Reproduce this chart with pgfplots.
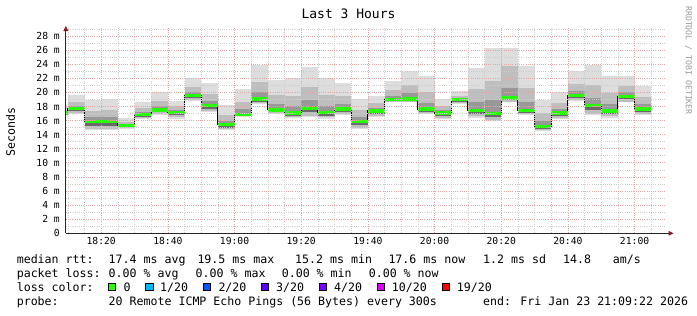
\documentclass[border=0pt]{standalone}
\usepackage{fontspec}
\setmainfont{DejaVu Sans Mono}
\usepackage{pgfplots}
\pgfplotsset{compat=1.18}
\usepackage{pgfplotstable}
\definecolor{smokeA}{HTML}{DDDDDD}
\definecolor{smokeB}{HTML}{BEBEBE}
\definecolor{smokeC}{HTML}{989898}
\definecolor{smokeD}{HTML}{6A6A6A}
\definecolor{medgreen}{HTML}{26FF00}
\definecolor{mgrid}{HTML}{E4A4A4}
\definecolor{ngrid}{HTML}{CDCDCD}
\definecolor{arrowred}{HTML}{8B1A1A}
\definecolor{lc1}{HTML}{00B8FF}
\definecolor{lc2}{HTML}{0059FF}
\definecolor{lc3}{HTML}{5E00FF}
\definecolor{lc4}{HTML}{7E00FF}
\definecolor{lc10}{HTML}{DD00FF}
\definecolor{lc19}{HTML}{FF0000}
% t = minutes after 18:00 (start of 5-min bin)
\pgfplotstableread{
t   lo    l1    l2    med   h2    h1    hi
5   16.60 16.75 16.80 17.05 17.25 17.50 18.00
10  16.90 17.05 17.30 17.70 18.10 18.70 19.67
15  14.67 14.80 15.30 15.90 16.50 17.40 18.95
20  14.67 14.80 15.30 15.90 16.50 17.50 19.05
25  14.76 14.90 15.05 15.33 15.55 15.80 16.33
30  16.19 16.35 16.50 16.86 17.20 17.75 18.67
35  16.76 16.90 17.15 17.52 18.00 18.75 20.00
40  16.29 16.45 16.75 17.19 17.50 18.00 18.81
45  18.81 18.95 19.15 19.52 20.00 20.80 22.05
50  17.24 17.40 17.65 18.10 18.75 19.75 21.38
55  14.62 14.75 15.00 15.43 16.00 16.85 18.24
60  16.52 16.60 16.70 16.86 17.60 18.65 20.48
65  18.30 18.45 18.70 19.05 20.00 21.50 23.95
70  16.90 17.05 17.20 17.52 18.40 19.65 21.80
75  16.33 16.50 16.70 17.05 18.00 19.50 22.00
80  16.57 16.70 17.15 17.71 18.90 20.70 23.67
85  16.29 16.45 16.70 17.14 18.10 19.60 22.05
90  16.86 17.00 17.25 17.62 18.35 19.50 21.33
95  14.86 15.00 15.40 15.90 16.55 17.50 19.05
100 16.57 16.70 17.00 17.38 17.80 18.45 19.52
105 18.57 18.70 18.80 19.00 19.55 20.35 21.67
110 18.57 18.70 18.80 19.05 19.85 21.05 23.05
115 16.90 17.05 17.25 17.62 18.55 20.00 22.38
120 16.20 16.35 16.60 17.05 17.45 18.05 19.05
125 18.40 18.55 18.70 18.95 19.20 19.55 20.19
130 16.43 16.60 16.95 17.43 18.65 20.45 23.48
135 15.95 16.10 16.50 17.00 18.85 21.65 26.33
140 18.57 18.70 18.90 19.19 20.60 23.80 26.33
145 16.76 16.90 17.10 17.43 18.70 20.60 23.81
150 14.52 14.65 14.85 15.19 15.95 17.05 18.95
155 16.19 16.35 16.60 17.05 17.65 18.50 20.00
160 18.81 18.95 19.15 19.52 20.20 21.25 23.00
165 16.86 17.00 17.50 18.10 19.25 21.00 23.95
170 16.43 16.60 16.90 17.38 18.35 19.85 22.33
175 18.57 18.70 19.00 19.43 20.00 20.90 22.33
180 16.86 17.00 17.25 17.62 18.30 19.30 20.95
185 16.86 17.00 17.25 17.62 18.30 19.30 20.95
}\smoke
\pgfplotsset{
  smokeband/.style={draw=none, mark=none, restrict x to domain=0:184,
    error bars/.cd, y dir=both, y explicit, error mark=none,
    error bar style={draw=#1, line width=16.7bp, line cap=butt}},
}
\begin{document}
\begin{tikzpicture}[x=1bp,y=1bp]
\path[use as bounding box] (0,0) rectangle (697,315);
\begin{axis}[
  at={(65.8bp,81.7bp)}, anchor=south west, scale only axis,
  width=600bp, height=205.3bp,
  xmin=9.37, xmax=189.37, ymin=0, ymax=29.14,
  axis line style={draw=none},
  xtick={20,40,...,180},
  xticklabels={18:20,18:40,19:00,19:20,19:40,20:00,20:20,20:40,21:00},
  minor xtick={10,15,...,185},
  ytick={0,2,...,28},
  yticklabels={0,2 m,4 m,6 m,8 m,10 m,12 m,14 m,16 m,18 m,20 m,22 m,24 m,26 m,28 m},
  minor ytick={1,3,...,29},
  major tick length=0pt, minor tick length=0pt,
  grid=both,
  major grid style={draw=mgrid, line width=0.7bp, dash pattern=on 1bp off 1.2bp},
  minor grid style={draw=ngrid, line width=0.7bp, dash pattern=on 1bp off 1.2bp},
  axis on top,
  xticklabel style={font=\fontsize{9.7bp}{11bp}\selectfont, anchor=north, inner sep=0pt, yshift=-4.2bp},
  yticklabel style={font=\fontsize{9.7bp}{11bp}\selectfont, anchor=east, inner sep=0pt, xshift=-5.8bp},
]
\addplot[smokeband=smokeA] table[x expr=\thisrow{t}+2.5, y=med,
  y error plus expr=\thisrow{hi}-\thisrow{med}, y error minus expr=\thisrow{med}-\thisrow{lo}]{\smoke};
\addplot[smokeband=smokeB] table[x expr=\thisrow{t}+2.5, y=med,
  y error plus expr=\thisrow{h1}-\thisrow{med}, y error minus expr=\thisrow{med}-\thisrow{l1}]{\smoke};
\addplot[smokeband=smokeC] table[x expr=\thisrow{t}+2.5, y=med,
  y error plus expr=\thisrow{h2}-\thisrow{med}, y error minus expr=0]{\smoke};
\addplot[smokeband=smokeD] table[x expr=\thisrow{t}+2.5, y=med,
  y error plus expr=0, y error minus expr=\thisrow{med}-\thisrow{l2}]{\smoke};
\addplot[black, line width=0.9bp, const plot, mark=none] table[x=t,y=med]{\smoke};
\addplot[smokeband=medgreen] table[x expr=\thisrow{t}+2.5, y=med,
  y error plus expr=0.24, y error minus expr=0.24]{\smoke};
\end{axis}
% axes with arrows
\draw[black!85, line width=0.8bp] (65.8,81.7) -- (669,81.7);
\fill[arrowred] (673.5,81.7) -- (668.5,84.2) -- (668.5,79.2) -- cycle;
\draw[black!85, line width=0.8bp] (65.8,81.7) -- (65.8,284.5);
\fill[arrowred] (65.8,289) -- (63.3,284) -- (68.3,284) -- cycle;
% titles
\node[font=\fontsize{13bp}{15bp}\selectfont, inner sep=0pt] at (348.5,301) {Last 3 Hours};
\node[rotate=90, font=\fontsize{11.6bp}{13bp}\selectfont, inner sep=0pt] at (10.5,183) {Seconds};
\node[rotate=-90, text=black!40, font=\fontsize{8.2bp}{9bp}\selectfont, inner sep=0pt] at (688.5,254.5) {RRDTOOL / TOBI OETIKER};
% legend
\begin{scope}[every node/.style={inner sep=0pt, anchor=base west, font=\fontsize{11.6bp}{13bp}\selectfont}]
\node at (16.6,51.8) {median rtt:};
\node at (108.5,51.8) {17.4 ms avg};
\node at (197.3,51.8) {19.5 ms max};
\node at (295,51.8) {15.2 ms min};
\node at (388.3,51.8) {17.6 ms now};
\node at (483,51.8) {1.2 ms sd};
\node at (563,51.8) {14.8};
\node at (612.6,51.8) {am/s};
\node at (16.6,37.8) {packet loss:};
\node at (108.5,37.8) {0.00 \% avg};
\node at (195.5,37.8) {0.00 \% max};
\node at (281.6,37.8) {0.00 \% min};
\node at (368.6,37.8) {0.00 \% now};
\node at (16.6,23.8) {loss color:};
\node at (123.3,23.8) {0};
\node at (160,23.8) {1/20};
\node at (218.3,23.8) {2/20};
\node at (276,23.8) {3/20};
\node at (334,23.8) {4/20};
\node at (391.7,23.8) {10/20};
\node at (456.7,23.8) {19/20};
\node at (16.6,9.8) {probe:};
\node at (108.5,9.8) {20 Remote ICMP Echo Pings (56 Bytes) every 300s};
\node at (483,9.8) {end: Fri Jan 23 21:09:22 2026};
\end{scope}
\foreach \bx/\bc in {108.3/medgreen,145.7/lc1,203.3/lc2,261/lc3,319/lc4,377.3/lc10,442.3/lc19}{
  \filldraw[fill=\bc, draw=black, line width=0.6bp] (\bx,24.9) rectangle ++(7.2,7.2);
}
\end{tikzpicture}
\end{document}
